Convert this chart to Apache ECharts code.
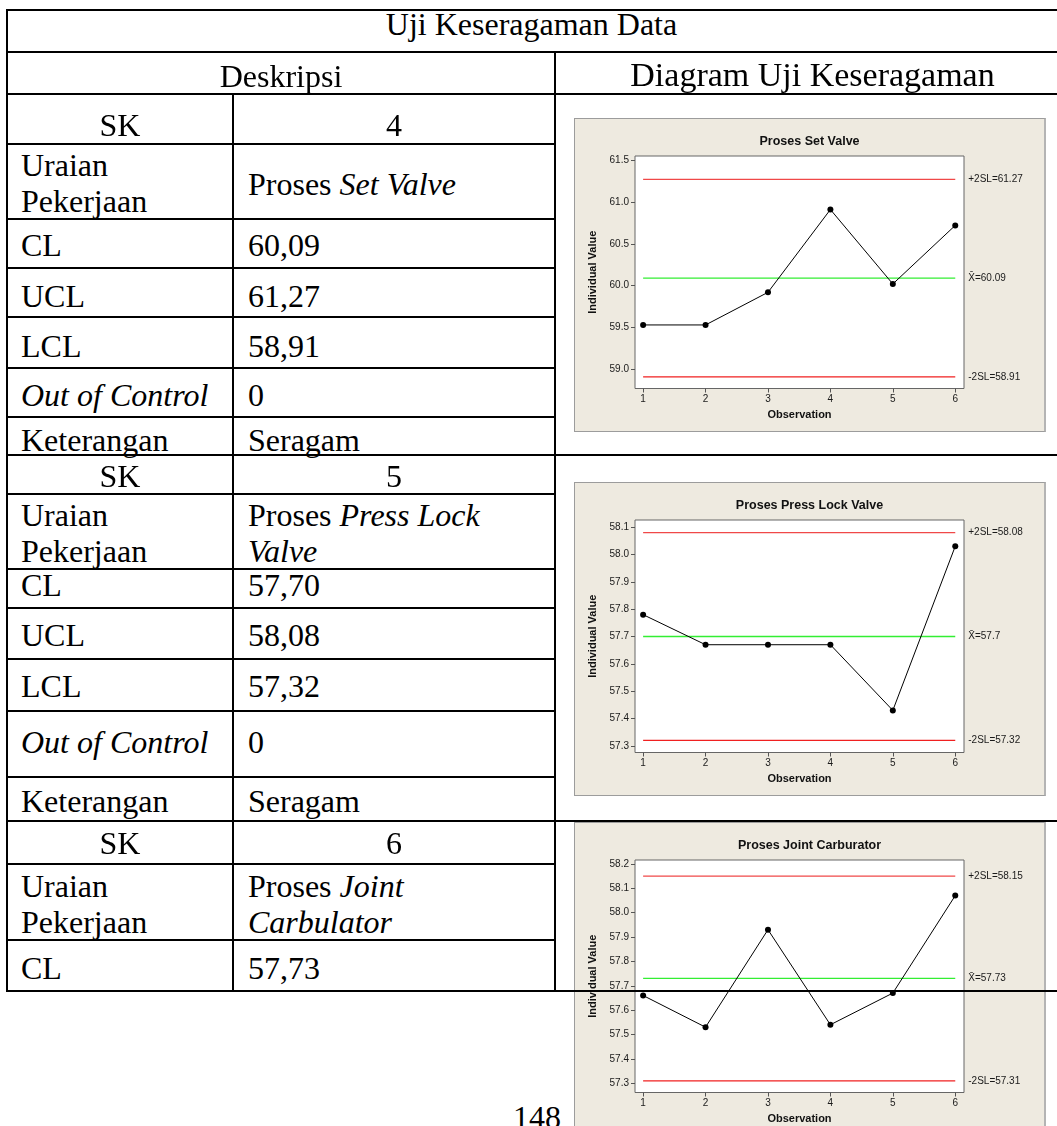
<!DOCTYPE html>
<html>
<head>
<meta charset="utf-8">
<script src="https://cdn.jsdelivr.net/npm/echarts@6/dist/echarts.min.js"></script>
<style>
  html, body { margin:0; padding:0; background:#fff; }
  body { width:1057px; height:1126px; overflow:hidden; position:relative; font-family:"Liberation Serif","Times New Roman",serif; color:#000; }
  .ln { position:absolute; background:#000; z-index:10; }
  .tx { position:absolute; z-index:11; font-size:32px; line-height:36.5px; white-space:nowrap; }
  .c { text-align:center; }
  .panel { position:absolute; left:574px; width:472px; height:314px; box-sizing:border-box; border:1px solid #9c9c9c; border-right:2px solid #b4b4b4; background:#EEEAE0; z-index:1; }
  .panel > div { width:100%; height:100%; }
</style>
</head>
<body>
<div id="p1" class="panel" style="top:118px"><div id="c1"></div></div>
<div id="p2" class="panel" style="top:482px"><div id="c2"></div></div>
<div id="p3" class="panel" style="top:822px"><div id="c3"></div></div>
<div id="table"></div>
<script>
// ---------- DATA ----------
const observations = [1, 2, 3, 4, 5, 6];

const chart1Title = 'Proses Set Valve';
const chart1Values = [59.53, 59.53, 59.92, 60.91, 60.02, 60.72];
const chart1Limits = [61.27, 60.09, 58.91];               // +2SL, mean, -2SL
const chart1LimitLabels = ['+2SL=61.27', 'X\u0304=60.09', '-2SL=58.91'];
const chart1YTicks = [59.0, 59.5, 60.0, 60.5, 61.0, 61.5];
const chart1YRange = [58.77, 61.55];

const chart2Title = 'Proses Press Lock Valve';
const chart2Values = [57.78, 57.67, 57.67, 57.67, 57.43, 58.03];
const chart2Limits = [58.08, 57.70, 57.32];
const chart2LimitLabels = ['+2SL=58.08', 'X\u0304=57.7', '-2SL=57.32'];
const chart2YTicks = [57.3, 57.4, 57.5, 57.6, 57.7, 57.8, 57.9, 58.0, 58.1];
const chart2YRange = [57.276, 58.126];

const chart3Title = 'Proses Joint Carburator';
const chart3Values = [57.66, 57.53, 57.93, 57.54, 57.67, 58.07];
const chart3Limits = [58.15, 57.73, 57.31];
const chart3LimitLabels = ['+2SL=58.15', 'X\u0304=57.73', '-2SL=57.31'];
const chart3YTicks = [57.3, 57.4, 57.5, 57.6, 57.7, 57.8, 57.9, 58.0, 58.1, 58.2];
const chart3YRange = [57.262, 58.216];

const tableTitle = 'Uji Keseragaman Data';
const headerLeft = 'Deskripsi';
const headerRight = 'Diagram Uji Keseragaman';
const rowLabels = ['SK', 'Uraian|Pekerjaan', 'CL', 'UCL', 'LCL', '<i>Out of Control</i>', 'Keterangan'];
const set1Values = ['4', 'Proses <i>Set Valve</i>', '60,09', '61,27', '58,91', '0', 'Seragam'];
const set2Values = ['5', 'Proses <i>Press Lock</i>|<i>Valve</i>', '57,70', '58,08', '57,32', '0', 'Seragam'];
const set3Values = ['6', 'Proses <i>Joint</i>|<i>Carbulator</i>', '57,73'];
const pageNumber = '148';

// ---------- TABLE (layout) ----------
const T = document.getElementById('table');
function line(x, y, w, h) {
  const d = document.createElement('div');
  d.className = 'ln';
  d.style.left = x + 'px'; d.style.top = y + 'px';
  d.style.width = w + 'px'; d.style.height = h + 'px';
  T.appendChild(d);
}
function text(html, left, capCenter, opts) {
  opts = opts || {};
  const d = document.createElement('div');
  d.className = 'tx' + (opts.center ? ' c' : '');
  d.innerHTML = html;
  d.style.left = left + 'px';
  d.style.top = (capCenter - 18.5) + 'px';
  if (opts.width) d.style.width = opts.width + 'px';
  if (opts.size) d.style.fontSize = opts.size + 'px';
  T.appendChild(d);
}
const X0 = 7, XC = 233, XS = 555, XR = 1057;
// full-width horizontals
[10, 52, 94, 455, 821, 991].forEach(y => line(X0 - 1, y - 1, XR - X0 + 1, 2));
// left-section horizontals
[144, 219, 268, 317, 368, 417, 494, 569, 608, 659, 711, 777, 864, 940].forEach(y => line(X0 - 1, y - 1, XS - X0 + 1, 2));
// verticals
line(X0 - 1, 9, 2, 983);
line(XS - 1, 51, 2, 941);
line(XC - 1, 93, 2, 899);

text(tableTitle, 331.5, 24, { center: true, width: 400 });
text(headerLeft, 81, 76.5, { center: true, width: 400 });
text(headerRight, 612.5, 75.5, { center: true, width: 400, size: 34 });

function writeSet(values, centers) {
  values.forEach((v, i) => {
    const c = centers[i];
    const label = rowLabels[i];
    const first = Array.isArray(c) ? c[0] : c;
    if (i === 0) {
      text(label, X0, first, { center: true, width: XC - X0 });
      text(v, XC, first, { center: true, width: XS - XC });
      return;
    }
    text(label.replace('|', '<br>'), 21, first);
    const vc = (Array.isArray(c) && v.indexOf('|') < 0) ? (c[2] || first) : first;
    text(v.replace('|', '<br>'), 248, vc);
  });
}
writeSet(set1Values, [125.5, [165, 202, 184.5], 245, 296.5, 346.5, 395, 440]);
writeSet(set2Values, [476.5, [515, 552], 585, 635, 686.5, 742, 801]);
writeSet(set3Values, [843.5, [886, 923.5], 968]);
text(pageNumber, 513, 1117);

// ---------- CHARTS ----------
const SANS = '"Liberation Sans", Arial, sans-serif';
function buildOption(title, values, limits, limitLabels, yTicks, yRange) {
  const limitColors = ['#f04848', '#33ee33', '#f02020'];
  const refSeries = limits.map((v, i) => ({
    type: 'line',
    data: [[observations[0], v], [observations[observations.length - 1], v]],
    symbol: 'none',
    silent: true,
    lineStyle: { color: limitColors[i], width: 1.3 },
    endLabel: {
      show: true, formatter: limitLabels[i], distance: 13,
      fontFamily: SANS, fontSize: 10, color: '#1a1a1a'
    },
    z: 2
  }));
  return {
    animation: false,
    backgroundColor: '#EEEAE0',
    title: {
      text: title, left: 'center', top: 16, padding: 0,
      textStyle: { fontFamily: SANS, fontWeight: 'bold', fontSize: 12.5, color: '#111' }
    },
    grid: {
      left: 60, right: 80, top: 37, bottom: 42.5, show: true,
      backgroundColor: '#ffffff', borderColor: '#666', borderWidth: 1
    },
    xAxis: {
      type: 'value', min: 0.87, max: 6.14,
      name: 'Observation', nameLocation: 'middle', nameGap: 18,
      nameTextStyle: { fontFamily: SANS, fontWeight: 'bold', fontSize: 11, color: '#111' },
      axisLine: { show: false },
      axisTick: { show: true, customValues: observations, length: 4, lineStyle: { color: '#555' } },
      axisLabel: { customValues: observations, margin: 6, fontFamily: SANS, fontSize: 10, color: '#1a1a1a' },
      splitLine: { show: false }
    },
    yAxis: {
      type: 'value', min: yRange[0], max: yRange[1],
      name: 'Individual Value', nameLocation: 'middle', nameGap: 35,
      nameTextStyle: { fontFamily: SANS, fontWeight: 'bold', fontSize: 11, color: '#111' },
      axisLine: { show: false },
      axisTick: { show: true, customValues: yTicks, length: 4, lineStyle: { color: '#555' } },
      axisLabel: {
        customValues: yTicks, margin: 6, fontFamily: SANS, fontSize: 10, color: '#1a1a1a',
        formatter: v => Number(v).toFixed(1)
      },
      splitLine: { show: false }
    },
    series: refSeries.concat([{
      type: 'line',
      data: observations.map((o, i) => [o, values[i]]),
      symbol: 'circle', symbolSize: 6,
      itemStyle: { color: '#000' },
      lineStyle: { color: '#000', width: 1 },
      z: 5
    }])
  };
}
const charts = [
  ['c1', chart1Title, chart1Values, chart1Limits, chart1LimitLabels, chart1YTicks, chart1YRange],
  ['c2', chart2Title, chart2Values, chart2Limits, chart2LimitLabels, chart2YTicks, chart2YRange],
  ['c3', chart3Title, chart3Values, chart3Limits, chart3LimitLabels, chart3YTicks, chart3YRange]
];
charts.forEach(c => {
  const inst = echarts.init(document.getElementById(c[0]), null, { renderer: 'canvas' });
  inst.setOption(buildOption(c[1], c[2], c[3], c[4], c[5], c[6]));
});
</script>
</body>
</html>
